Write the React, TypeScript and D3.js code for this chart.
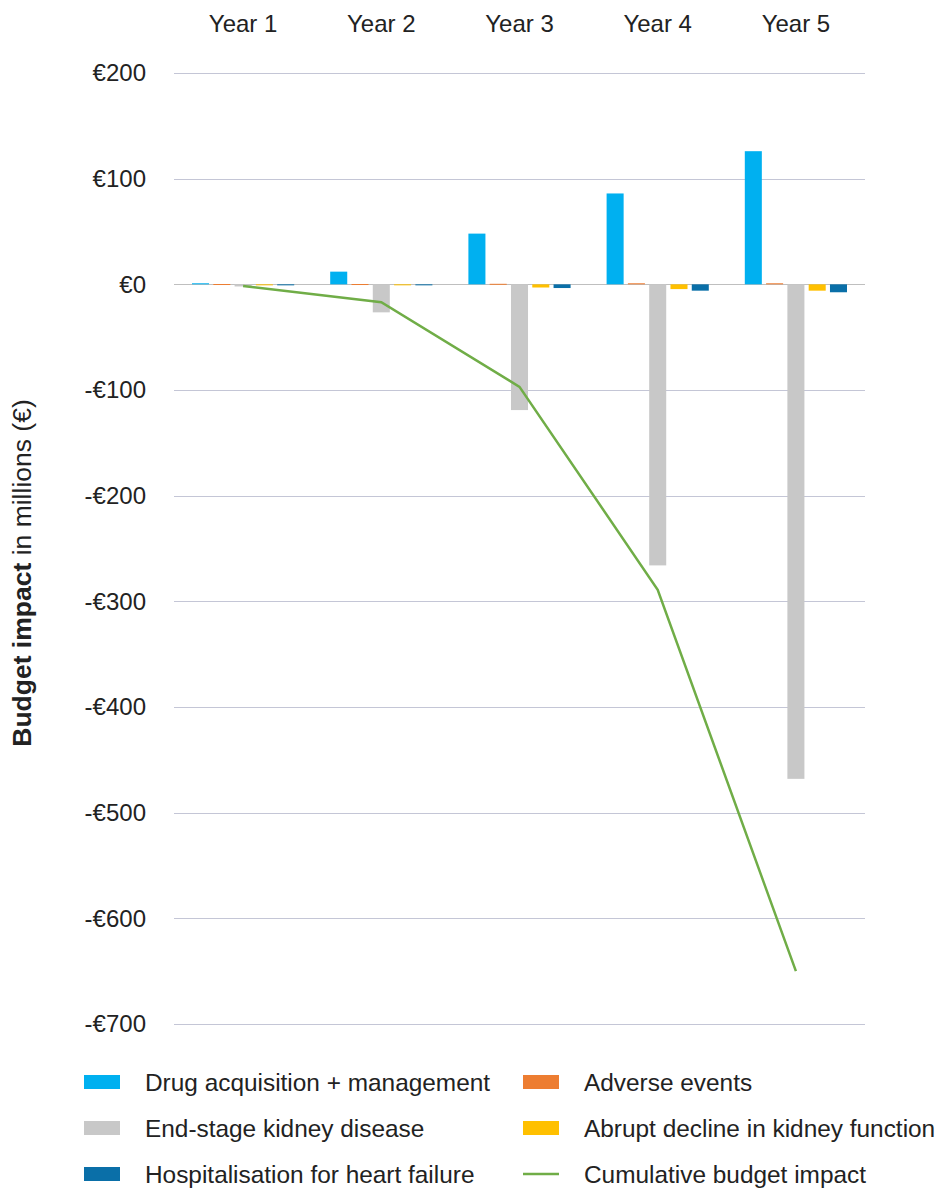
import { useEffect, useRef } from "react";
import * as d3 from "d3";

const years = ["Year 1", "Year 2", "Year 3", "Year 4", "Year 5"];

const drugAcquisition = [1, 12, 48, 86, 126];
const adverseEvents = [0.3, 0.3, 0.5, 1, 1];
const endStageKidney = [-2, -26.5, -119, -266, -468];
const abruptDecline = [-0.3, -0.5, -3, -4.5, -6];
const hospitalisation = [-0.5, -0.8, -3.5, -6, -7.5];
const cumulative = [-1.5, -17, -97, -289, -650];

const yTicks = [200, 100, 0, -100, -200, -300, -400, -500, -600, -700];

const seriesNames = [
  "Drug acquisition + management",
  "Adverse events",
  "End-stage kidney disease",
  "Abrupt decline in kidney function",
  "Hospitalisation for heart failure",
];
const seriesColors = ["#00B0F0", "#ED7D31", "#C8C8C8", "#FFC000", "#0A6FA8"];
const lineName = "Cumulative budget impact";
const lineColor = "#70AD47";

const W = 943;
const H = 1190;
const FONT = "'Liberation Sans', Arial, sans-serif";

function App() {
  const svgRef = useRef<SVGSVGElement | null>(null);

  useEffect(() => {
    const svg = d3.select(svgRef.current);
    svg.selectAll("*").remove();

    const left = 174;
    const right = 865;
    const top = 73;
    const bottom = 1024;

    const series = [drugAcquisition, adverseEvents, endStageKidney, abruptDecline, hospitalisation];

    const x = d3.scaleBand<string>().domain(years).range([left, right]).paddingInner(0).paddingOuter(0);
    const y = d3.scaleLinear().domain([-700, 200]).range([bottom, top]);
    const inner = d3
      .scaleBand<number>()
      .domain(d3.range(series.length))
      .range([18, x.bandwidth() - 18])
      .paddingInner(0.2);

    // gridlines
    svg
      .append("g")
      .selectAll("line")
      .data(yTicks)
      .enter()
      .append("line")
      .attr("x1", left)
      .attr("x2", right)
      .attr("y1", (d) => Math.round(y(d)) + 0.5)
      .attr("y2", (d) => Math.round(y(d)) + 0.5)
      .attr("stroke", (d) => (d === 0 ? "#bfbfbf" : "#c4c6d6"))
      .attr("stroke-width", 1);

    // y labels
    svg
      .append("g")
      .selectAll("text")
      .data(yTicks)
      .enter()
      .append("text")
      .attr("x", 146)
      .attr("y", (d) => y(d))
      .attr("dy", "0.35em")
      .attr("text-anchor", "end")
      .style("font-family", FONT)
      .style("font-size", "24px")
      .style("fill", "#222")
      .text((d) => (d < 0 ? `-€${-d}` : `€${d}`));

    // x labels at top
    svg
      .append("g")
      .selectAll("text")
      .data(years)
      .enter()
      .append("text")
      .attr("x", (d) => x(d)! + x.bandwidth() / 2)
      .attr("y", 32)
      .attr("text-anchor", "middle")
      .style("font-family", FONT)
      .style("font-size", "24px")
      .style("fill", "#222")
      .text((d) => d);

    // bars
    series.forEach((vals, si) => {
      svg
        .append("g")
        .selectAll("rect")
        .data(vals)
        .enter()
        .append("rect")
        .attr("x", (_, i) => x(years[i])! + inner(si)!)
        .attr("width", inner.bandwidth())
        .attr("y", (d) => Math.min(y(d), y(0)))
        .attr("height", (d) => Math.max(Math.abs(y(d) - y(0)), 1))
        .attr("fill", seriesColors[si]);
    });

    // cumulative line
    const line = d3
      .line<number>()
      .x((_, i) => x(years[i])! + x.bandwidth() / 2)
      .y((d) => y(d));
    svg
      .append("path")
      .datum(cumulative)
      .attr("d", line)
      .attr("fill", "none")
      .attr("stroke", lineColor)
      .attr("stroke-width", 2.5);

    // axis title
    const title = svg
      .append("text")
      .attr("transform", `translate(31, 573) rotate(-90)`)
      .attr("text-anchor", "middle")
      .style("font-family", FONT)
      .style("font-size", "26.5px")
      .style("fill", "#222");
    title.append("tspan").style("font-weight", "bold").text("Budget impact");
    title.append("tspan").text(" in millions (€)");

    // legend
    const legendItems = [
      { name: seriesNames[0], color: seriesColors[0], type: "rect", col: 0, row: 0 },
      { name: seriesNames[1], color: seriesColors[1], type: "rect", col: 1, row: 0 },
      { name: seriesNames[2], color: seriesColors[2], type: "rect", col: 0, row: 1 },
      { name: seriesNames[3], color: seriesColors[3], type: "rect", col: 1, row: 1 },
      { name: seriesNames[4], color: seriesColors[4], type: "rect", col: 0, row: 2 },
      { name: lineName, color: lineColor, type: "line", col: 1, row: 2 },
    ];
    const colX = [84, 523];
    const rowY = [1082, 1128, 1174];
    const lg = svg.append("g");
    legendItems.forEach((it) => {
      const gx = colX[it.col];
      const gy = rowY[it.row];
      if (it.type === "rect") {
        lg.append("rect")
          .attr("x", gx)
          .attr("y", gy - 7)
          .attr("width", 36)
          .attr("height", 14)
          .attr("fill", it.color);
      } else {
        lg.append("line")
          .attr("x1", gx)
          .attr("x2", gx + 36)
          .attr("y1", gy)
          .attr("y2", gy)
          .attr("stroke", it.color)
          .attr("stroke-width", 2.5);
      }
      lg.append("text")
        .attr("x", gx + 61)
        .attr("y", gy)
        .attr("dy", "0.35em")
        .style("font-family", FONT)
        .style("font-size", "24.4px")
        .style("fill", "#222")
        .text(it.name);
    });
  }, []);

  return (
    <svg
      ref={svgRef}
      width={W}
      height={H}
      style={{ position: "absolute", left: 0, top: 0, background: "#fff" }}
    ></svg>
  );
}

export default App;
